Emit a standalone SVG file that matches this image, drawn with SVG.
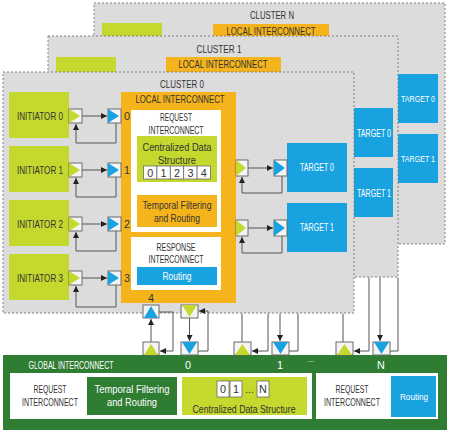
<svg xmlns="http://www.w3.org/2000/svg" width="450" height="434" viewBox="0 0 450 434">
<defs>
<style>
.cl{fill:#dcdcdc;stroke:#808080;stroke-width:1;stroke-dasharray:2,2}
.lime{fill:#c4d82e}
.org{fill:#f6b41c}
.blu{fill:#19a2e0}
.dg{fill:#2f7c33}
.wh{fill:#ffffff}
.port{fill:#f4f4f4;stroke:#6a6a6a;stroke-width:1}
.cell{fill:#ffffff;stroke:#6a6a6a;stroke-width:0.8}
.t{font-family:"Liberation Sans Narrow","Liberation Sans",Arial,sans-serif;font-size:10.8px;fill:#333333;text-anchor:middle}
.tw{font-family:"Liberation Sans Narrow","Liberation Sans",Arial,sans-serif;font-size:10.8px;fill:#ffffff;text-anchor:middle}
.sm{font-size:9.5px}
.ln{fill:none;stroke:#555555;stroke-width:1}
</style>
<marker id="ah" viewBox="0 0 10 10" refX="10" refY="5" markerWidth="6" markerHeight="6" markerUnits="userSpaceOnUse" orient="auto">
<path d="M0,0 L10,5 L0,10 z" fill="#222222"/>
</marker>
</defs>

<!-- Cluster N -->
<g id="cluster-n">
<rect class="cl" x="94" y="3" width="351" height="241"/>
<text class="t" x="272" y="19" textLength="44" lengthAdjust="spacingAndGlyphs">CLUSTER N</text>
<rect class="lime" x="102" y="23" width="60" height="46"/>
<rect class="org" x="213" y="24" width="116" height="200"/>
<text class="t" x="271" y="35" textLength="89" lengthAdjust="spacingAndGlyphs">LOCAL INTERCONNECT</text>
<rect class="blu" x="378" y="74" width="60" height="49"/>
<text class="tw sm" x="418" y="101.5" textLength="34" lengthAdjust="spacingAndGlyphs">TARGET 0</text>
<rect class="blu" x="378" y="134" width="60" height="49"/>
<text class="tw sm" x="418" y="161.5" textLength="34" lengthAdjust="spacingAndGlyphs">TARGET 1</text>
</g>

<!-- Cluster 1 -->
<g id="cluster-1">
<rect class="cl" x="48" y="36" width="350" height="241"/>
<text class="t" x="219" y="53" textLength="45" lengthAdjust="spacingAndGlyphs">CLUSTER 1</text>
<rect class="lime" x="56" y="57" width="60" height="46"/>
<rect class="org" x="166" y="57" width="115" height="200"/>
<text class="t" x="223" y="68" textLength="89" lengthAdjust="spacingAndGlyphs">LOCAL INTERCONNECT</text>
<rect class="blu" x="332" y="108" width="61" height="49"/>
<text class="tw" x="374" y="137" textLength="34" lengthAdjust="spacingAndGlyphs">TARGET 0</text>
<rect class="blu" x="332" y="168" width="61" height="49"/>
<text class="tw" x="374" y="197" textLength="34" lengthAdjust="spacingAndGlyphs">TARGET 1</text>
</g>

<!-- Cluster 0 -->
<g id="cluster-0">
<rect class="cl" x="3" y="72" width="351" height="241"/>
<text class="t" x="182" y="88" textLength="44" lengthAdjust="spacingAndGlyphs">CLUSTER 0</text>
</g>

<g id="local-interconnect-0">
<rect class="org" x="121" y="92" width="115" height="211"/>
<text class="t" x="180" y="103" textLength="89" lengthAdjust="spacingAndGlyphs">LOCAL INTERCONNECT</text>
<text class="t" x="127" y="120">0</text>
<text class="t" x="127" y="174">1</text>
<text class="t" x="127" y="228">2</text>
<text class="t" x="127" y="282">3</text>
<text class="t" x="151" y="302">4</text>
</g>

<g id="request-interconnect-0">
<rect class="wh" x="131" y="110" width="90" height="122"/>
<text class="t" x="176" y="121" textLength="32" lengthAdjust="spacingAndGlyphs">REQUEST</text>
<text class="t" x="176" y="134" textLength="55" lengthAdjust="spacingAndGlyphs">INTERCONNECT</text>
</g>

<g id="data-structure-0">
<rect class="lime" x="137" y="136" width="80" height="46"/>
<text class="t" x="177" y="151" textLength="69" lengthAdjust="spacingAndGlyphs">Centralized Data</text>
<text class="t" x="177" y="164" textLength="38" lengthAdjust="spacingAndGlyphs">Structure</text>
<rect class="cell" x="143.5" y="166" width="13.4" height="13"/>
<rect class="cell" x="156.9" y="166" width="13.4" height="13"/>
<rect class="cell" x="170.3" y="166" width="13.4" height="13"/>
<rect class="cell" x="183.7" y="166" width="13.4" height="13"/>
<rect class="cell" x="197.1" y="166" width="13.4" height="13"/>
<text class="t" x="150.2" y="176.5">0</text>
<text class="t" x="163.6" y="176.5">1</text>
<text class="t" x="177" y="176.5">2</text>
<text class="t" x="190.4" y="176.5">3</text>
<text class="t" x="203.8" y="176.5">4</text>
</g>

<g id="temporal-filtering-0">
<rect class="org" x="137" y="195" width="80" height="32"/>
<text class="t" x="177" y="209" textLength="69" lengthAdjust="spacingAndGlyphs">Temporal Filtering</text>
<text class="t" x="177" y="222" textLength="46" lengthAdjust="spacingAndGlyphs">and Routing</text>
</g>

<g id="response-interconnect-0">
<rect class="wh" x="131" y="237" width="90" height="53"/>
<text class="t" x="176" y="251" textLength="39" lengthAdjust="spacingAndGlyphs">RESPONSE</text>
<text class="t" x="176" y="263" textLength="55" lengthAdjust="spacingAndGlyphs">INTERCONNECT</text>
<rect class="blu" x="137" y="267" width="80" height="18"/>
<text class="tw" x="177" y="280" textLength="29" lengthAdjust="spacingAndGlyphs">Routing</text>
</g>

<g id="initiator-0">
<rect class="lime" x="9" y="92" width="60" height="46"/>
<text class="t" x="40" y="119.5" textLength="46" lengthAdjust="spacingAndGlyphs">INITIATOR 0</text>
</g>
<g id="initiator-1">
<rect class="lime" x="9" y="146" width="60" height="46"/>
<text class="t" x="40" y="173.5" textLength="46" lengthAdjust="spacingAndGlyphs">INITIATOR 1</text>
</g>
<g id="initiator-2">
<rect class="lime" x="9" y="200" width="60" height="46"/>
<text class="t" x="40" y="227.5" textLength="46" lengthAdjust="spacingAndGlyphs">INITIATOR 2</text>
</g>
<g id="initiator-3">
<rect class="lime" x="9" y="254" width="60" height="46"/>
<text class="t" x="40" y="281.5" textLength="46" lengthAdjust="spacingAndGlyphs">INITIATOR 3</text>
</g>

<g id="target-0">
<rect class="blu" x="287" y="143" width="60" height="49"/>
<text class="tw" x="317" y="171" textLength="34" lengthAdjust="spacingAndGlyphs">TARGET 0</text>
</g>
<g id="target-1">
<rect class="blu" x="287" y="203" width="60" height="49"/>
<text class="tw" x="317" y="231" textLength="34" lengthAdjust="spacingAndGlyphs">TARGET 1</text>
</g>

<!-- Connectors -->
<g id="connectors">
<line class="ln" x1="82" y1="116" x2="107" y2="116" marker-end="url(#ah)"/>
<polyline class="ln" points="116,123 116,143 76,143 76,124" marker-end="url(#ah)"/>
<line class="ln" x1="82" y1="170" x2="107" y2="170" marker-end="url(#ah)"/>
<polyline class="ln" points="116,177 116,197 76,197 76,178" marker-end="url(#ah)"/>
<line class="ln" x1="82" y1="224" x2="107" y2="224" marker-end="url(#ah)"/>
<polyline class="ln" points="116,231 116,251 76,251 76,232" marker-end="url(#ah)"/>
<line class="ln" x1="82" y1="278" x2="107" y2="278" marker-end="url(#ah)"/>
<polyline class="ln" points="116,285 116,307 76,307 76,286" marker-end="url(#ah)"/>

<line class="ln" x1="248" y1="168" x2="273" y2="168" marker-end="url(#ah)"/>
<polyline class="ln" points="282,176 282,193 242,193 242,177" marker-end="url(#ah)"/>
<line class="ln" x1="248" y1="228" x2="273" y2="228" marker-end="url(#ah)"/>
<polyline class="ln" points="282,236 282,253 242,253 242,237" marker-end="url(#ah)"/>

<line class="ln" x1="151" y1="342" x2="151" y2="319" marker-end="url(#ah)"/>
<polyline class="ln" points="159,312 173,312 173,351 160,351" marker-end="url(#ah)"/>
<line class="ln" x1="189.5" y1="318" x2="189.5" y2="341" marker-end="url(#ah)"/>
<polyline class="ln" points="198,351 208,351 208,311 199,311" marker-end="url(#ah)"/>

<line class="ln" x1="242" y1="342" x2="242" y2="313.5"/>
<polyline class="ln" points="268,313.5 268,351 252,351" marker-end="url(#ah)"/>
<line class="ln" x1="280" y1="313.5" x2="280" y2="341" marker-end="url(#ah)"/>
<polyline class="ln" points="298,313.5 298,351 289,351"/>

<line class="ln" x1="343" y1="342" x2="343" y2="313.5"/>
<polyline class="ln" points="369,277.5 369,351 354,351" marker-end="url(#ah)"/>
<line class="ln" x1="380" y1="277.5" x2="380" y2="341" marker-end="url(#ah)"/>
<polyline class="ln" points="398,277.5 398,351 390,351"/>
</g>

<!-- Global interconnect -->
<g id="global-interconnect">
<rect class="dg" x="3" y="355" width="444" height="75"/>
<text class="tw" x="71" y="368.5" textLength="85" lengthAdjust="spacingAndGlyphs">GLOBAL INTERCONNECT</text>
<text class="tw" x="188" y="369">0</text>
<text class="tw" x="280" y="369">1</text>
<text class="tw" x="311" y="362" style="font-size:8px">...</text>
<text class="tw" x="381" y="369">N</text>
</g>
<g id="global-request-interconnect">
<rect class="wh" x="10" y="373" width="302" height="46"/>
<text class="t" x="50" y="393" textLength="33" lengthAdjust="spacingAndGlyphs">REQUEST</text>
<text class="t" x="50" y="406" textLength="56" lengthAdjust="spacingAndGlyphs">INTERCONNECT</text>
</g>
<g id="global-temporal-filtering">
<rect class="dg" x="87" y="377" width="90" height="38"/>
<text class="tw" x="132" y="393" textLength="75" lengthAdjust="spacingAndGlyphs">Temporal Filtering</text>
<text class="tw" x="132" y="406" textLength="50" lengthAdjust="spacingAndGlyphs">and Routing</text>
</g>
<g id="global-data-structure">
<rect class="lime" x="182" y="377" width="125" height="38"/>
<rect class="cell" x="217" y="381" width="12" height="16"/>
<rect class="cell" x="230" y="381" width="12" height="16"/>
<rect class="cell" x="257" y="381" width="12" height="16"/>
<text class="t" x="223" y="393">0</text>
<text class="t" x="236" y="393">1</text>
<text class="t" x="249.5" y="393">...</text>
<text class="t" x="263" y="393">N</text>
<text class="t" x="244" y="413" textLength="103" lengthAdjust="spacingAndGlyphs">Centralized Data Structure</text>
</g>
<g id="global-response-interconnect">
<rect class="wh" x="316" y="373" width="122" height="46"/>
<text class="t" x="352" y="393" textLength="33" lengthAdjust="spacingAndGlyphs">REQUEST</text>
<text class="t" x="352" y="406" textLength="56" lengthAdjust="spacingAndGlyphs">INTERCONNECT</text>
<rect class="blu" x="391" y="376" width="45" height="41"/>
<text class="tw sm" x="414" y="400" textLength="28" lengthAdjust="spacingAndGlyphs">Routing</text>
</g>

<!-- Ports -->
<g id="ports-initiators">
<rect class="port" x="69" y="109" width="13" height="14"/><polygon class="lime" points="69,109 80,116 69,123"/>
<rect class="port" x="108" y="109" width="13" height="14"/><polygon class="blu" points="108,109 119,116 108,123"/>
<rect class="port" x="69" y="163" width="13" height="14"/><polygon class="lime" points="69,163 80,170 69,177"/>
<rect class="port" x="108" y="163" width="13" height="14"/><polygon class="blu" points="108,163 119,170 108,177"/>
<rect class="port" x="69" y="217" width="13" height="14"/><polygon class="lime" points="69,217 80,224 69,231"/>
<rect class="port" x="108" y="217" width="13" height="14"/><polygon class="blu" points="108,217 119,224 108,231"/>
<rect class="port" x="69" y="271" width="13" height="14"/><polygon class="lime" points="69,271 80,278 69,285"/>
<rect class="port" x="108" y="271" width="13" height="14"/><polygon class="blu" points="108,271 119,278 108,285"/>
</g>
<g id="ports-targets">
<rect class="port" x="236" y="160" width="12" height="16"/><polygon class="lime" points="236,160 246,168 236,176"/>
<rect class="port" x="274" y="160" width="13" height="16"/><polygon class="blu" points="274,160 285,168 274,176"/>
<rect class="port" x="236" y="220" width="12" height="16"/><polygon class="lime" points="236,220 246,228 236,236"/>
<rect class="port" x="274" y="220" width="13" height="16"/><polygon class="blu" points="274,220 285,228 274,236"/>
</g>
<g id="ports-global">
<rect class="port" x="143" y="305" width="16" height="13"/><polygon class="blu" points="144,318 151,306 158,318"/>
<rect class="port" x="181" y="305" width="17" height="13"/><polygon class="lime" points="182,305 189.5,317 197,305"/>
<rect class="port" x="143" y="342" width="16" height="13"/><polygon class="lime" points="144,355 151,344 158,355"/>
<rect class="port" x="181" y="342" width="17" height="13"/><polygon class="blu" points="182,342 189.5,354 197,342"/>
<rect class="port" x="234" y="342" width="17" height="13"/><polygon class="lime" points="235,355 242.5,344 250,355"/>
<rect class="port" x="272" y="342" width="17" height="13"/><polygon class="blu" points="273,342 280.5,354 288,342"/>
<rect class="port" x="336" y="342" width="17" height="13"/><polygon class="lime" points="337,355 344.5,344 352,355"/>
<rect class="port" x="373" y="342" width="17" height="13"/><polygon class="blu" points="374,342 381.5,354 389,342"/>
</g>
</svg>
